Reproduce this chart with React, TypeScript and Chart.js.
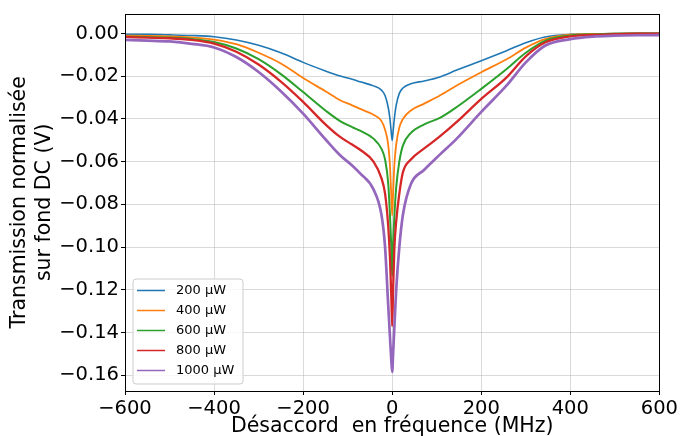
import { useEffect, useRef } from "react";
import { Chart, registerables } from "chart.js";

Chart.register(...registerables);

// Detuning (MHz)
const detuning = [
  -600, -550, -500, -450, -400, -350, -300, -250, -200, -150, -117, -90, -72, -42, -24, -16, -9, -5, -2,
  0,
  2, 5, 9, 16, 24, 42, 72, 107, 145, 200, 257, 300, 343, 400, 450, 500, 550, 600,
];

const p200 = [
  -0.0004, -0.0004, -0.0006, -0.0009, -0.0015, -0.003, -0.0055, -0.009, -0.0135, -0.0175, -0.0199, -0.0214, -0.0226, -0.0245, -0.0265, -0.029, -0.0345, -0.04, -0.0465,
  -0.05,
  -0.046, -0.0395, -0.0335, -0.028, -0.0255, -0.0235, -0.0222, -0.0203, -0.0171, -0.0127, -0.008, -0.0043, -0.0016, -0.0004, -0.0002, 0.0, 0.0001, 0.0001,
];

const p400 = [
  -0.001, -0.0011, -0.0013, -0.0018, -0.0028, -0.005, -0.009, -0.014, -0.0208, -0.027, -0.0312, -0.0336, -0.0353, -0.038, -0.041, -0.045, -0.052, -0.062, -0.076,
  -0.0852,
  -0.075, -0.061, -0.052, -0.044, -0.04, -0.036, -0.0328, -0.029, -0.0243, -0.0181, -0.012, -0.0066, -0.0026, -0.0005, -0.0002, 0.0, 0.0, 0.0,
];

const p600 = [
  -0.0015, -0.0016, -0.0019, -0.0025, -0.004, -0.007, -0.012, -0.019, -0.0274, -0.036, -0.041, -0.0438, -0.0455, -0.0492, -0.054, -0.059, -0.07, -0.085, -0.1,
  -0.1135,
  -0.099, -0.085, -0.072, -0.06, -0.0525, -0.0465, -0.0425, -0.0395, -0.0344, -0.0259, -0.0166, -0.009, -0.0034, -0.0009, -0.0004, -0.0001, 0.0, 0.0,
];

const p800 = [
  -0.0016, -0.0019, -0.0022, -0.003, -0.0047, -0.0085, -0.0145, -0.0225, -0.032, -0.0425, -0.0484, -0.052, -0.0544, -0.06, -0.0678, -0.075, -0.09, -0.105, -0.123,
  -0.137,
  -0.12, -0.1, -0.088, -0.075, -0.065, -0.059, -0.0538, -0.0482, -0.0414, -0.0306, -0.0205, -0.0107, -0.0042, -0.0013, -0.0006, -0.0003, -0.0001, -0.0001,
];

const p1000 = [
  -0.003, -0.0033, -0.0037, -0.0048, -0.0065, -0.011, -0.018, -0.027, -0.0375, -0.0495, -0.057, -0.0618, -0.0655, -0.073, -0.085, -0.1, -0.127, -0.142, -0.153,
  -0.1585,
  -0.15, -0.137, -0.12, -0.1, -0.085, -0.0705, -0.0638, -0.0567, -0.0492, -0.0367, -0.0243, -0.0135, -0.0057, -0.0026, -0.0014, -0.001, -0.0008, -0.0007,
];

const seriesLabels = ["200 µW", "400 µW", "600 µW", "800 µW", "1000 µW"];
const seriesValues = [p200, p400, p600, p800, p1000];
const seriesColors = ["#1f77b4", "#ff7f0e", "#2ca02c", "#d62728", "#9467bd"];
const seriesWidths = [1.6, 1.8, 2.0, 2.3, 2.7];

const xTicks = [-600, -400, -200, 0, 200, 400, 600];
const yTicks = [0.0, -0.02, -0.04, -0.06, -0.08, -0.1, -0.12, -0.14, -0.16];

const FONT = "'DejaVu Sans', sans-serif";

const fmtY = (v: number) => {
  const s = Math.abs(v).toFixed(2);
  return Math.abs(v) < 1e-9 ? s : (v < 0 ? "\u2212" : "") + s;
};
const fmtX = (v: number) => (v < 0 ? "\u2212" : "") + Math.abs(v).toString();

const framePlugin = {
  id: "frameAndLegend",
  afterDatasetsDraw(chart: any) {
    const { ctx, chartArea: a } = chart;
    ctx.save();
    ctx.strokeStyle = "#000";
    ctx.lineWidth = 1;
    ctx.strokeRect(Math.round(a.left) + 0.5, Math.round(a.top) + 0.5, Math.round(a.right - a.left), Math.round(a.bottom - a.top));

    // legend
    const bx = a.left + 8;
    const bw = 110;
    const bh = 105;
    const by = a.bottom - 7 - bh;
    ctx.beginPath();
    const r = 3;
    ctx.moveTo(bx + r, by);
    ctx.lineTo(bx + bw - r, by);
    ctx.quadraticCurveTo(bx + bw, by, bx + bw, by + r);
    ctx.lineTo(bx + bw, by + bh - r);
    ctx.quadraticCurveTo(bx + bw, by + bh, bx + bw - r, by + bh);
    ctx.lineTo(bx + r, by + bh);
    ctx.quadraticCurveTo(bx, by + bh, bx, by + bh - r);
    ctx.lineTo(bx, by + r);
    ctx.quadraticCurveTo(bx, by, bx + r, by);
    ctx.closePath();
    ctx.fillStyle = "rgba(255,255,255,0.8)";
    ctx.fill();
    ctx.strokeStyle = "#cccccc";
    ctx.lineWidth = 1;
    ctx.stroke();

    ctx.font = `13px ${FONT}`;
    ctx.textBaseline = "middle";
    ctx.textAlign = "left";
    seriesLabels.forEach((lab, i) => {
      const y = by + 11.5 + i * 20;
      ctx.strokeStyle = seriesColors[i];
      ctx.lineWidth = 1.5;
      ctx.beginPath();
      ctx.moveTo(bx + 4, y);
      ctx.lineTo(bx + 32, y);
      ctx.stroke();
      ctx.fillStyle = "#000";
      ctx.fillText(lab, bx + 43, y);
    });
    ctx.restore();
  },
};

export default function App() {
  const ref = useRef<HTMLCanvasElement>(null);
  useEffect(() => {
    const datasets = seriesValues.map((vals, i) => ({
      label: seriesLabels[i],
      data: detuning.map((x, j) => ({ x, y: vals[j] })),
      borderColor: seriesColors[i],
      backgroundColor: seriesColors[i],
      borderWidth: seriesWidths[i],
      pointRadius: 0,
      cubicInterpolationMode: "monotone" as const,
      fill: false,
      order: seriesValues.length - i,
    }));
    const gridCommon = {
      color: "rgba(170,170,170,0.55)",
      lineWidth: 0.8,
      borderDash: [2, 2],
      tickColor: "#000",
      tickLength: 4,
      tickWidth: 1,
    };
    const chart = new Chart(ref.current!, {
      type: "line",
      data: { datasets },
      plugins: [framePlugin],
      options: {
        animation: false,
        responsive: false,
        devicePixelRatio: 1,
        layout: { padding: { left: 0, right: 20, top: 11, bottom: 0 } },
        plugins: { legend: { display: false }, tooltip: { enabled: false } },
        scales: {
          x: {
            type: "linear",
            min: -600,
            max: 600,
            grid: gridCommon as any,
            border: { display: false },
            afterFit: (s: any) => {
              s.height = 45;
            },
            afterBuildTicks: (s: any) => {
              s.ticks = xTicks.map((v) => ({ value: v }));
            },
            ticks: {
              color: "#000",
              font: { family: FONT, size: 19.5 },
              padding: 2,
              maxRotation: 0,
              callback: (v: any) => fmtX(Number(v)),
            },
            title: {
              display: true,
              text: "Désaccord  en fréquence (MHz)",
              color: "#000",
              font: { family: FONT, size: 20.5, lineHeight: 0.89 },
              padding: { top: 0, bottom: 0 },
            },
          },
          y: {
            type: "linear",
            min: -0.1674,
            max: 0.0093,
            grid: gridCommon as any,
            border: { display: false },
            afterFit: (s: any) => {
              s.width = 125;
            },
            afterBuildTicks: (s: any) => {
              s.ticks = yTicks.map((v) => ({ value: v }));
            },
            ticks: {
              color: "#000",
              font: { family: FONT, size: 19.5 },
              padding: 2,
              callback: (v: any) => fmtY(Number(v)),
            },
            title: {
              display: true,
              text: ["Transmission normalisée", "sur fond DC (V)"],
              color: "#000",
              font: { family: FONT, size: 20.5, lineHeight: 1.22 },
              padding: { top: 7.6, bottom: 0 },
            },
          },
        },
      },
    } as any);
    return () => chart.destroy();
  }, []);
  return (
    <div style={{ position: "fixed", left: 0, top: 0, width: 680, height: 436, background: "#fff" }}>
      <canvas ref={ref} width={680} height={436} style={{ display: "block" }} />
    </div>
  );
}
